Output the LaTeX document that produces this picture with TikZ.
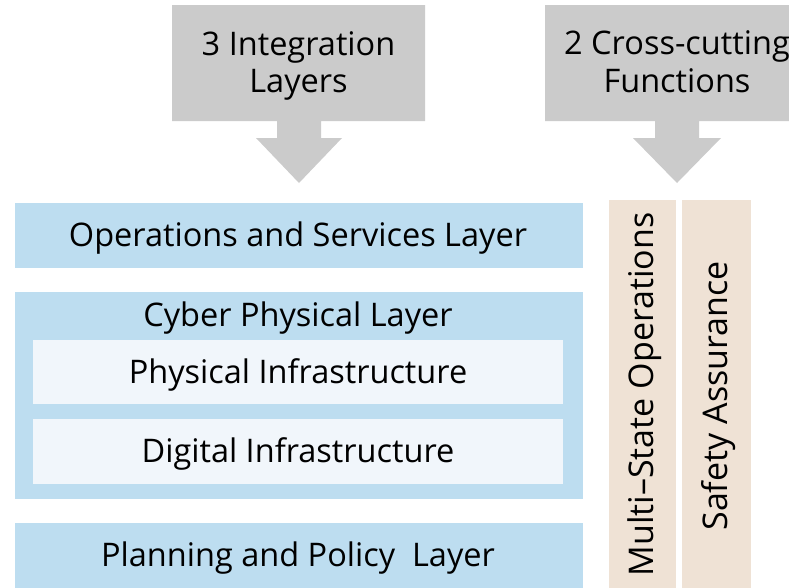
\documentclass[tikz,border=0pt]{standalone}
\usepackage{fontspec}
\setmainfont{Open Sans}
\definecolor{layerblue}{HTML}{BDDDF0}
\definecolor{innerblue}{HTML}{F1F6FB}
\definecolor{beige}{HTML}{EFE2D5}
\definecolor{arrowgray}{HTML}{CBCBCB}
\begin{document}
\begin{tikzpicture}[x=1pt,y=-1pt,
  lbl/.style={font=\fontsize{32.5}{39}\selectfont, text=black, inner sep=0pt, anchor=base},
  vlbl/.style={font=\fontsize{34}{40}\selectfont, text=black, inner sep=0pt, anchor=base, rotate=90},
  layer/.style={fill=layerblue, draw=none, inner sep=0pt, rectangle},
  inner/.style={fill=innerblue, draw=none, inner sep=0pt, rectangle},
  func/.style={fill=beige, draw=none, inner sep=0pt, rectangle},
  garrow/.style={fill=arrowgray, draw=none}]
\useasboundingbox (0,0) rectangle (789,587);
% arrows
\fill[garrow] (172,5) -- (425,5) -- (425,121) -- (321,121) -- (321,138) -- (342,138) -- (299,183) -- (256,138) -- (277,138) -- (277,121) -- (172,121) -- cycle;
\node[lbl] (a1a) at (298.5,55) {3 Integration};
\node[lbl] (a1b) at (298.5,92) {Layers};
\fill[garrow] (545,5) -- (809,5) -- (809,121) -- (699,121) -- (699,138) -- (721,138) -- (677,183) -- (633,138) -- (655,138) -- (655,121) -- (545,121) -- cycle;
\node[lbl] (a2a) at (677,54) {2 Cross-cutting};
\node[lbl] (a2b) at (677,92) {Functions};
% layers
\node[layer, minimum width=568pt, minimum height=65pt] (ops) at (299,235.5) {};
\node[lbl] (opst) at (298,246.5) {Operations and Services Layer};
\node[layer, minimum width=568pt, minimum height=207pt] (cyber) at (299,395.5) {};
\node[lbl] (cybt) at (298,326.5) {Cyber Physical Layer};
\node[inner, minimum width=530pt, minimum height=64pt] (phys) at (298,372) {};
\node[lbl] (physt) at (298,383) {Physical Infrastructure};
\node[inner, minimum width=530pt, minimum height=65pt] (dig) at (298,451.5) {};
\node[lbl] (digt) at (298,462) {Digital Infrastructure};
\node[layer, minimum width=568pt, minimum height=70pt] (plan) at (299,558) {};
\node[lbl] (plant) at (298,566) {Planning and Policy\ \ Layer};
% cross-cutting
\node[func, minimum width=67pt, minimum height=400pt] (mso) at (642.5,400) {};
\node[vlbl] (msot) at (653,394.5) {Multi–State Operations};
\node[func, minimum width=69pt, minimum height=400pt] (sa) at (716.5,400) {};
\node[vlbl] (sat) at (727,396) {Safety Assurance};
\end{tikzpicture}
\end{document}
